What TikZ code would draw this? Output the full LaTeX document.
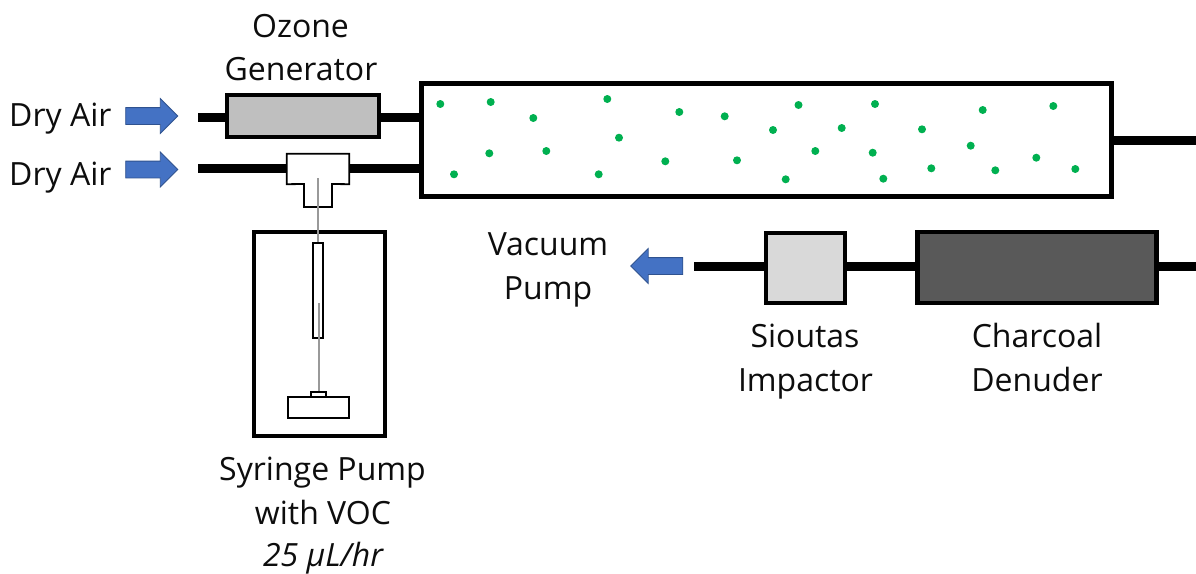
\documentclass[tikz,border=0pt]{standalone}
\usepackage{fontspec}
\setmainfont{Open Sans}
\usetikzlibrary{shapes.arrows}
\definecolor{arrowblue}{HTML}{4472C4}
\definecolor{arrowedge}{HTML}{2F528F}
\definecolor{dotgreen}{HTML}{00B050}
\tikzset{
  pipe/.style={line width=9pt,draw=black},
  boxed/.style={draw=black,line width=4.5pt,inner sep=0pt,rectangle},
  thinbox/.style={draw=black,line width=1.8pt,fill=white,inner sep=0pt,rectangle},
  needle/.style={draw=black!40,line width=1.2pt},
  label/.style={font=\fontsize{32}{32}\selectfont,inner sep=0pt,text=black!95,anchor=base},
  flowarrow/.style={single arrow,fill=arrowblue,draw=arrowedge,line width=0.8pt,inner sep=0pt,
    minimum height=52pt,minimum width=34pt,single arrow head extend=9pt,
    single arrow head indent=0pt,text width=0pt,text height=8pt,text depth=8pt},
  particle/.style={circle,fill=dotgreen,inner sep=0pt,minimum size=8pt}
}
\begin{document}
\begin{tikzpicture}[x=1pt,y=-1pt]
\useasboundingbox (0,0) rectangle (1196,573);
\fill[white] (0,0) rectangle (1196,573);

% main boxes
\node[boxed,fill=white,minimum width=690pt,minimum height=113pt] (reactor) at (766.5,140) {};
\node[boxed,fill=black!25,minimum width=152pt,minimum height=42pt] (ozone) at (303,116) {};
\node[boxed,fill=white,minimum width=131pt,minimum height=204pt] (pump) at (319.5,334) {};
\node[boxed,fill=black!15,minimum width=79pt,minimum height=70pt] (impactor) at (805.5,268) {};
\node[boxed,fill=black!65,minimum width=239pt,minimum height=71pt] (denuder) at (1037,267.5) {};
\node[thinbox,minimum width=10pt,minimum height=95pt] (syringe) at (318,290.5) {};
\node[thinbox,minimum width=15pt,minimum height=5pt] (collar) at (318.5,394.5) {};
\node[thinbox,minimum width=61pt,minimum height=21pt] (base) at (318.5,407.5) {};
\node[inner sep=0pt,minimum width=62pt,minimum height=30pt] (tee) at (318,169) {};

% free ends of the pipes
\coordinate (airA) at (198,117.5);
\coordinate (airB) at (198,168);
\coordinate (outA) at (1196,140);
\coordinate (vacEnd) at (694,266);
\coordinate (outB) at (1196,266);
\coordinate (needleTop) at (318,178);
\coordinate (rodTop) at (319,303);

% pipes
\draw[pipe] (airA) -- (airA -| ozone.west);
\draw[pipe] (airA -| ozone.east) -- (airA -| reactor.west);
\draw[pipe] (airB) -- (airB -| tee.west);
\draw[pipe] (airB -| tee.east) -- (airB -| reactor.west);
\draw[pipe] (reactor.east |- outA) -- (outA);
\draw[pipe] (vacEnd) -- (vacEnd -| impactor.west);
\draw[pipe] (vacEnd -| impactor.east) -- (vacEnd -| denuder.west);
\draw[pipe] (outB -| denuder.east) -- (outB);

% T fitting
\draw[line width=1.8pt,fill=white,line join=miter]
  (tee.north west) -- (tee.north east) -- (tee.south east) -- (332,184) -- (332,207)
  -- (304,207) -- (304,184) -- (tee.south west) -- cycle;

% needle and plunger
\draw[needle] (needleTop) -- (syringe.north -| needleTop);
\draw[needle] (rodTop) -- (rodTop |- collar.north);

% flow arrows
\node[flowarrow] (arrowA) at (147.5,116) {};
\node[flowarrow] (arrowB) at (147.5,169.5) {};
\node[flowarrow,shape border rotate=180] (arrowC) at (661,266) {};

% particles
\foreach \px/\py in {440.3/104,490.7/102,533.3/118,607.3/99,679.3/112,724.7/116.3,798.5/105,773/130,619/137.7,489.3/153.3,546.3/151,665.3/161.3,737/160.3,815.3/151,454/174.3,598.7/174.3,785.7/179.3,875/104,982.7/110,1053.3/106,841.7/128,922/129.3,872.7/152.7,970.7/145.7,1036.3/157.7,931.3/168.3,995.3/170.3,1075.3/169,883.3/178.7}
  \node[particle] at (\px,\py) {};

% labels
\node[label] (t1) at (300.5,37.5) {Ozone};
\node[label] (t2) at (301,80.5) {Generator};
\node[label,anchor=base west] (t3) at (9,126) {Dry Air};
\node[label,anchor=base west] (t4) at (9,185) {Dry Air};
\node[label] (t5) at (548,255) {Vacuum};
\node[label] (t6) at (548,299) {Pump};
\node[label] (t7) at (805,347) {Sioutas};
\node[label] (t8) at (805.5,391) {Impactor};
\node[label] (t9) at (1037,347) {Charcoal};
\node[label] (t10) at (1037,391) {Denuder};
\node[label] (t11) at (322.5,480) {Syringe Pump};
\node[label] (t12) at (323,524.5) {with VOC};
\node[label] (t13) at (323,566) {\itshape 25 μL/hr};
\end{tikzpicture}
\end{document}
